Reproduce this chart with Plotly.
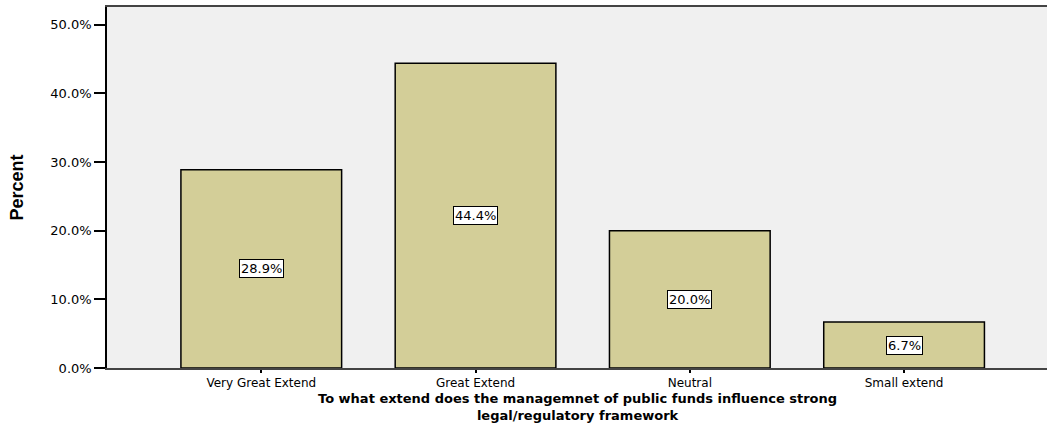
import plotly.graph_objects as go

categories = ["Very Great Extend", "Great Extend", "Neutral", "Small extend"]
percents = [28.9, 44.4, 20.0, 6.7]
y_ticks = [0, 10, 20, 30, 40, 50]
y_tick_labels = ["0.0%", "10.0%", "20.0%", "30.0%", "40.0%", "50.0%"]
x_title_lines = ["To what extend does the managemnet of public funds influence strong",
                 "legal/regulatory framework"]

FONT = "DejaVu Sans, Verdana, Arial"

fig = go.Figure()
fig.add_trace(go.Bar(
    x=categories, y=percents, width=0.75,
    marker=dict(color="#d3ce98", line=dict(color="#000000", width=1.5)),
    hoverinfo="skip",
))

for c, v in zip(categories, percents):
    fig.add_annotation(
        x=c, y=v / 2, text=f"{v:.1f}%", showarrow=False,
        font=dict(family=FONT, size=13, color="#000"),
        bgcolor="white", bordercolor="black", borderwidth=1, borderpad=1,
    )

# two-line x-axis title
fig.add_annotation(
    xref="paper", yref="paper", x=0.5, y=0, yshift=-56,
    yanchor="bottom", xanchor="center",
    text="<b>" + "<br>".join(x_title_lines) + "</b>", showarrow=False,
    font=dict(family=FONT, size=13, color="#000"), borderpad=0,
)

fig.update_layout(
    width=1047, height=424,
    margin=dict(l=107, r=0, t=7, b=56),
    paper_bgcolor="white", plot_bgcolor="#f0f0f0",
    showlegend=False,
    font=dict(family=FONT, size=13, color="#000"),
    xaxis=dict(
        type="category", range=[-0.72, 3.667],
        showline=True, linecolor="#444", linewidth=1.5, mirror=True,
        ticks="outside", ticklen=3, tickcolor="#000", tickwidth=1.5,
        showgrid=False, tickfont=dict(size=12, family=FONT),
    ),
    yaxis=dict(
        range=[0, 52.6], tickvals=y_ticks, ticktext=y_tick_labels,
        showline=True, linecolor="#000", linewidth=1.5,
        ticks="outside", ticklen=11, tickcolor="#000", tickwidth=1.5,
        showgrid=False, zeroline=False, tickfont=dict(size=13, family=FONT),
        title=dict(text="<b>Percent</b>",
                   font=dict(size=18, family="Liberation Sans Narrow, Liberation Sans, Arial"),
                   standoff=22),
    ),
)

fig.write_html("out.html")
